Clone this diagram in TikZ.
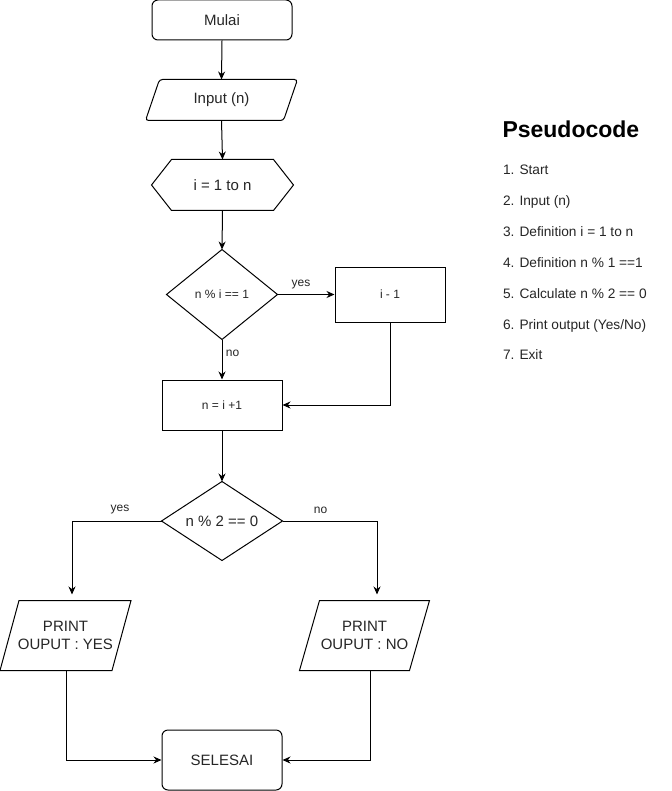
\documentclass[tikz,border=0pt]{standalone}
\usepackage{fontspec}
\setmainfont{Liberation Sans}
\usetikzlibrary{arrows.meta,calc}
\begin{document}
\begin{tikzpicture}[x=1pt,y=-1pt, line width=1pt,
  every node/.style={inner sep=0pt, text=black!85},
  shp/.style={inner sep=0pt, align=center},
  big/.style={font=\fontsize{15}{18}\selectfont},
  small/.style={font=\fontsize{12}{14}\selectfont},
  item/.style={anchor=base west, font=\fontsize{13.7}{16}\selectfont},
  arr/.style={-{Stealth[length=8pt,width=7pt]}}]
\useasboundingbox[fill=white] (0,0) rectangle (671,791);

% nodes
\node[shp,big,draw,rounded corners=6pt,minimum width=140pt,minimum height=40pt] (mulai) at (222,20) {Mulai};

\node[shp,big,minimum width=151pt,minimum height=40pt] (inp) at (221.5,100) {Input (n)};
\draw[rounded corners=3pt] (inp.south) -- (inp.south west) -- ($(inp.north west)+(14,0)$) -- (inp.north east) -- ($(inp.south east)+(-14,0)$) -- cycle;

\node[shp,big,minimum width=141pt,minimum height=50pt] (hex) at (222.5,185) {i = 1 to n};
\draw (hex.west) -- ($(hex.north west)+(20,0)$) -- ($(hex.north east)+(-20,0)$) -- (hex.east) -- ($(hex.south east)+(-20,0)$) -- ($(hex.south west)+(20,0)$) -- cycle;

\node[shp,small,minimum width=110pt,minimum height=89pt] (d1) at (222,294.5) {n \% i == 1};
\draw (d1.north) -- (d1.east) -- (d1.south) -- (d1.west) -- cycle;

\node[shp,small,draw,minimum width=110pt,minimum height=55pt] (b1) at (390,294.5) {i - 1};

\node[shp,small,draw,minimum width=120pt,minimum height=50pt] (b2) at (222,405) {n = i +1};

\node[shp,big,minimum width=120pt,minimum height=78pt] (d2) at (222,521) {n \% 2 == 0};
\draw (d2.north) -- (d2.east) -- (d2.south) -- (d2.west) -- cycle;

\node[shp,big,minimum width=130pt,minimum height=69pt] (yesp) at (65.5,635.5) {PRINT\\OUPUT : YES};
\draw (yesp.south) -- (yesp.south west) -- ($(yesp.north west)+(19,0)$) -- (yesp.north east) -- ($(yesp.south east)+(-19,0)$) -- cycle;

\node[shp,big,minimum width=129pt,minimum height=69pt] (nop) at (364.5,635.5) {PRINT\\OUPUT : NO};
\draw (nop.south) -- (nop.south west) -- ($(nop.north west)+(20,0)$) -- (nop.north east) -- ($(nop.south east)+(-20,0)$) -- cycle;

\node[shp,big,draw,rounded corners=6pt,minimum width=120pt,minimum height=60pt] (sel) at (222,760) {SELESAI};

% labels
\node[small] (lyes1) at (301,285) {yes};
\node[small] (lno1) at (232.5,353) {no};
\node[small] (lyes2) at (120,510) {yes};
\node[small] (lno2) at (320.5,510) {no};

% connectors
\draw[arr] (mulai.south) -- (inp.north);
\draw[arr] (inp.south) -- (hex.north);
\draw[arr] (hex.south) -- (d1.north);
\draw[arr] (d1.east) -- (b1.west);
\draw[arr] (d1.south) -- (b2.north);
\draw[arr] (b1.south) |- (b2.east);
\draw[arr] (b2.south) -- (d2.north);
\draw[arr,shorten >=6pt] (d2.west) -| ($(yesp.north)+(6.5,0)$);
\draw[arr,shorten >=6pt] (d2.east) -| ($(nop.north)+(12.5,0)$);
\draw[arr] ($(yesp.south)+(0.5,0)$) |- (sel.west);
\draw[arr] ($(nop.south)+(6,0)$) |- (sel.east);

% pseudocode
\node[anchor=base west, font=\bfseries\fontsize{23}{28}\selectfont, text=black] (title) at (502,137.5) {Pseudocode};
\node[item] (p1) at (502.5,175) {1. Start};
\node[item] (p2) at (502.5,205.8) {2. Input (n)};
\node[item] (p3) at (502.5,236.6) {3. Definition i = 1 to n};
\node[item] (p4) at (502.5,267.4) {4. Definition n \% 1 ==1};
\node[item] (p5) at (502.5,298.2) {5. Calculate n \% 2 == 0};
\node[item] (p6) at (502.5,329) {6. Print output (Yes/No)};
\node[item] (p7) at (502.5,359.8) {7. Exit};
\end{tikzpicture}
\end{document}
